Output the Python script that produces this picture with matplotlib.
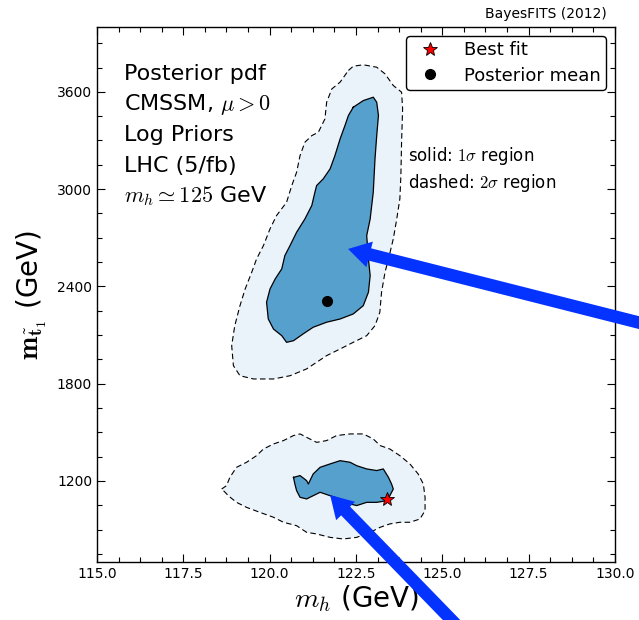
import numpy as np
import matplotlib
matplotlib.use("Agg")
import matplotlib.pyplot as plt
from matplotlib.ticker import MultipleLocator, FormatStrFormatter

plt.rcParams['mathtext.fontset'] = 'cm'
plt.rcParams['font.family'] = 'DejaVu Sans'

# 2-sigma (dashed) and 1-sigma (solid) outlines, upper island
outer_hi_mh = [122.28, 122.42, 122.71, 123.10, 123.34, 123.58, 123.82, 123.85, 123.82, 123.80,
               123.77, 123.68, 123.58, 123.44, 123.34, 123.24, 123.19, 123.05, 122.81, 122.42,
               122.04, 121.65, 121.36, 121.07, 120.59, 120.11, 119.53, 119.14, 118.95, 118.90,
               118.99, 119.14, 119.29, 119.48, 119.62, 119.82, 120.01, 120.20, 120.49, 120.64,
               120.78, 120.88, 121.02, 121.22, 121.41, 121.60, 121.65, 121.80, 122.04]
outer_hi_mt = [3732, 3758, 3767, 3752, 3711, 3639, 3598, 3495, 3289, 3084,
               2940, 2816, 2693, 2569, 2487, 2364, 2240, 2158, 2096, 2055,
               2014, 1973, 1932, 1891, 1849, 1829, 1829, 1849, 1911, 2035,
               2158, 2281, 2384, 2487, 2569, 2652, 2755, 2837, 2919, 3022,
               3104, 3207, 3289, 3330, 3351, 3433, 3536, 3618, 3660]

inner_hi_mh = [122.42, 122.71, 123.00, 123.10, 123.15, 123.10, 123.05, 123.00, 122.91, 122.81,
               122.86, 122.91, 122.86, 122.71, 122.42, 122.04, 121.65, 121.26, 120.97, 120.69,
               120.49, 120.35, 120.11, 119.96, 119.91, 120.01, 120.16, 120.35, 120.44, 120.59,
               120.78, 121.02, 121.22, 121.31, 121.36, 121.55, 121.75, 121.89, 122.04, 122.18,
               122.28]
inner_hi_mt = [3505, 3546, 3567, 3536, 3454, 3330, 3186, 2981, 2816, 2713,
               2569, 2467, 2364, 2281, 2230, 2199, 2179, 2148, 2107, 2065,
               2055, 2096, 2137, 2199, 2302, 2384, 2446, 2508, 2590, 2652,
               2734, 2816, 2899, 2981, 3022, 3063, 3125, 3207, 3310, 3392,
               3454]

# lower island
outer_lo_mh = [118.61, 118.75, 118.85, 119.04, 119.33, 119.62, 119.82, 120.11, 120.40, 120.69,
               120.88, 121.07, 121.36, 121.65, 121.94, 122.33, 122.71, 123.00, 123.20, 123.48,
               123.77, 124.06, 124.30, 124.45, 124.50, 124.50, 124.35, 124.06, 123.77, 123.48,
               123.20, 122.91, 122.52, 122.13, 121.75, 121.36, 121.07, 120.78, 120.40, 120.11,
               119.72, 119.33, 119.04, 118.80, 118.71]
outer_lo_mt = [1150, 1171, 1223, 1284, 1315, 1356, 1397, 1428, 1449, 1480,
               1490, 1469, 1438, 1449, 1480, 1490, 1490, 1459, 1418, 1397,
               1356, 1305, 1243, 1181, 1099, 1017, 965, 945, 945, 935,
               914, 883, 852, 842, 852, 873, 883, 924, 945, 976,
               1006, 1037, 1068, 1109, 1130]

inner_lo_mh = [120.69, 120.88, 121.07, 121.12, 121.26, 121.46, 121.75, 122.04, 122.33, 122.52,
               122.81, 123.10, 123.29, 123.44, 123.53, 123.58, 123.48, 123.39, 123.10, 122.81,
               122.52, 122.33, 122.04, 121.75, 121.46, 121.26, 121.07, 120.88, 120.78, 120.73]
inner_lo_mt = [1222, 1233, 1202, 1181, 1243, 1284, 1305, 1325, 1315, 1294,
               1274, 1264, 1274, 1222, 1181, 1150, 1109, 1078, 1068, 1068,
               1048, 1058, 1089, 1109, 1130, 1109, 1089, 1099, 1140, 1181]

best_fit = (123.4, 1088)
post_mean = (121.65, 2310)

# big blue pointers: (tip, tail)
pointers = [((122.27, 2631), (131.3, 2144)),
            ((121.75, 1113), (125.66, 256))]

c_outer = '#eaf2fa'
c_inner = '#56a0cd'


def closed(xs, ys):
    return list(xs) + [xs[0]], list(ys) + [ys[0]]


fig = plt.figure(figsize=(6.39, 6.2), dpi=100)
ax = fig.add_axes([97/639, 58/620, 518/639, 535/620])

for xs, ys in [(outer_hi_mh, outer_hi_mt), (outer_lo_mh, outer_lo_mt)]:
    cx, cy = closed(xs, ys)
    ax.fill(cx, cy, color=c_outer, lw=0, zorder=1)
    ax.plot(cx, cy, color='k', lw=0.8, dashes=(5, 3), zorder=2)

for xs, ys in [(inner_hi_mh, inner_hi_mt), (inner_lo_mh, inner_lo_mt)]:
    cx, cy = closed(xs, ys)
    ax.fill(cx, cy, color=c_inner, lw=0, zorder=3)
    ax.plot(cx, cy, color='k', lw=0.9, zorder=4)

ax.plot(*best_fit, marker='*', color='red', mec='k', mew=0.6, ms=10, ls='none',
        zorder=6, label='Best fit')
ax.plot(*post_mean, marker='o', color='k', ms=7, ls='none', zorder=6,
        label='Posterior mean')

ax.set_xlim(115, 130)
ax.set_ylim(700, 4000)
ax.xaxis.set_major_locator(MultipleLocator(2.5))
ax.xaxis.set_minor_locator(MultipleLocator(0.625))
ax.xaxis.set_major_formatter(FormatStrFormatter('%.1f'))
ax.yaxis.set_major_locator(MultipleLocator(600))
ax.yaxis.set_minor_locator(MultipleLocator(150))
ax.set_yticks([1200, 1800, 2400, 3000, 3600])
ax.tick_params(which='both', direction='in', top=True, right=True, labelsize=10)
ax.tick_params(which='major', length=6, width=0.8)
ax.tick_params(which='minor', length=3.5, width=0.8)
for s in ax.spines.values():
    s.set_linewidth(1.0)

ax.set_xlabel(r'$m_h$ (GeV)', fontsize=20, labelpad=2)
ax.set_ylabel(r'$\mathbf{m}_{\tilde{\mathbf{t}}_\mathbf{1}}$ (GeV)', fontsize=20, labelpad=6)

info = ['Posterior pdf', r'CMSSM, $\mu>0$', 'Log Priors', 'LHC (5/fb)',
        r'$m_h\simeq125$ GeV']
for i, line in enumerate(info):
    ax.text(0.052, 0.912 - i * 0.057, line, transform=ax.transAxes, fontsize=16,
            va='center', ha='left')

ax.text(0.60, 0.758, r'solid: $1\sigma$ region', transform=ax.transAxes,
        fontsize=12, va='center')
ax.text(0.60, 0.708, r'dashed: $2\sigma$ region', transform=ax.transAxes,
        fontsize=12, va='center')

ax.text(0.985, 1.012, 'BayesFITS (2012)', transform=ax.transAxes, fontsize=10,
        ha='right', va='bottom')

ax.legend(loc='upper right', fontsize=13, numpoints=1, frameon=True, fancybox=True,
          edgecolor='k', framealpha=1, borderpad=0.3, handletextpad=0.9,
          labelspacing=0.4, borderaxespad=0.5)

for tip, tail in pointers:
    ax.annotate('', xy=tip, xytext=tail, annotation_clip=False, zorder=10,
                arrowprops=dict(arrowstyle='simple,head_length=16,head_width=19,tail_width=9',
                                mutation_scale=1, color='#0433ff', lw=0,
                                shrinkA=0, shrinkB=0))

fig.savefig('out.png', dpi=100)
